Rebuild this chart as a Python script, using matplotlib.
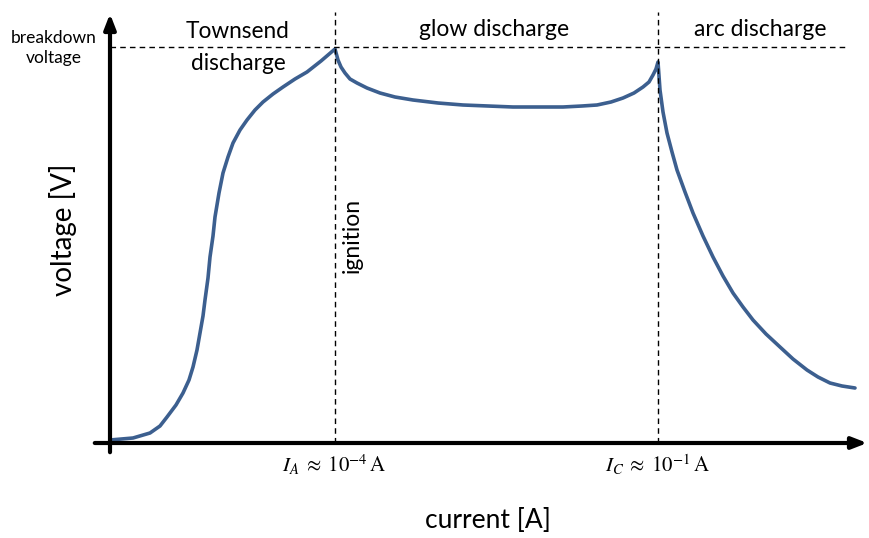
import matplotlib.pyplot as plt

plt.rcParams['font.family'] = ['Lato', 'DejaVu Sans']
plt.rcParams['mathtext.fontset'] = 'stix'

# curve (x: current axis, y: voltage axis, arbitrary units)
townsend_x = [0, 23, 40, 50, 57, 66, 73, 79, 83, 87, 90, 93, 95, 98, 100, 103, 105, 109, 113,
              118, 123, 130, 137, 145, 153, 163, 173, 185, 197, 211, 225]
townsend_y = [3, 5, 10, 17, 26, 38, 50, 63, 76, 93, 110, 127, 143, 165, 186, 207, 226, 250, 270,
              286, 300, 313, 323, 333, 341, 349, 356, 364, 371, 382, 394]
glow_x = [228, 231, 235, 240, 247, 257, 270, 285, 303, 328, 353, 378, 403, 428, 453, 472, 487,
          501, 513, 524, 533, 539, 543, 546, 548]
glow_y = [383, 376, 370, 364, 360, 355, 350, 346, 343, 340, 338, 337, 336, 336, 336, 337, 338,
          341, 345, 350, 356, 361, 368, 374, 381]
arc_x = [550, 553, 557, 562, 567, 575, 583, 593, 603, 613, 623, 633, 643, 656, 670, 683, 697,
         708, 720, 732, 745]
arc_y = [353, 331, 310, 291, 273, 251, 230, 207, 186, 167, 150, 136, 123, 109, 96, 84, 73, 66,
         60, 57, 55]

breakdown = 396
i_a = 225
i_c = 548
x_end = 760
y_top = 432

fig = plt.figure(figsize=(8.7, 5.38), dpi=100)
ax = fig.add_axes([0, 0, 1, 1])
ax.set_xlim(-110, 760)
ax.set_ylim(-95, 443)
ax.axis('off')

line_col = '#3c5f8f'
ax.plot(townsend_x + glow_x + arc_x, townsend_y + glow_y + arc_y, color=line_col, lw=2.6,
        solid_joinstyle='round', solid_capstyle='round')

# axes with arrows
ax.annotate('', xy=(0, y_top), xytext=(0, -12),
            arrowprops=dict(arrowstyle='-|>,head_width=0.35,head_length=0.9', lw=3, color='black'))
ax.annotate('', xy=(x_end, 0), xytext=(-18, 0),
            arrowprops=dict(arrowstyle='-|>,head_width=0.35,head_length=0.9', lw=3, color='black'))

# dashed guides
ax.plot([0, 738], [breakdown, breakdown], ls=(0, (4, 3)), color='black', lw=1)
for xv in [i_a, i_c]:
    ax.plot([xv, xv], [0, 431], ls=(0, (4, 3)), color='black', lw=1)

ax.text(-56, breakdown - 1, 'breakdown\nvoltage', ha='center', va='center', fontsize=12.5, linespacing=1.35)
ax.text(128, 412, 'Townsend', ha='center', va='center', fontsize=16.3)
ax.text(128, 380, 'discharge', ha='center', va='center', fontsize=16.3)
ax.text(384, 414, 'glow discharge', ha='center', va='center', fontsize=16.5)
ax.text(650, 414, 'arc discharge', ha='center', va='center', fontsize=16.5)
ax.text(242, 208, 'ignition', ha='center', va='center', fontsize=16.5, rotation=90)
ax.text(-47, 213, 'voltage [V]', ha='center', va='center', fontsize=20, rotation=90)
ax.text(378, -77, 'current [A]', ha='center', va='center', fontsize=19)
ax.text(i_a - 1, -22, r'$I_A\;\approx\;10^{-4}\,\mathrm{A}$', ha='center', va='center', fontsize=15)
ax.text(i_c, -22, r'$I_C\;\approx\;10^{-1}\,\mathrm{A}$', ha='center', va='center', fontsize=15)

fig.savefig('out.png', dpi=100, facecolor='white')
